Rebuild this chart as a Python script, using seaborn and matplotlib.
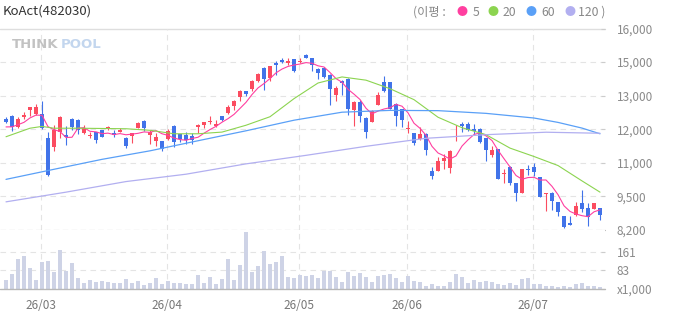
import numpy as np
import pandas as pd
import matplotlib
matplotlib.use("Agg")
import matplotlib.pyplot as plt
import seaborn as sns

# ---- data (KRW, daily) ----
opens = [12510, 12620, 12170, 12590, 12830, 12700, 12700, 11780, 11430, 11980,
         11890, 12510, 12470, 11940, 11850, 11980, 12080, 12150, 11940, 12000,
         11780, 11820, 12160, 12400, 11860, 11640, 11640, 11730, 12210, 11910,
         11890, 11850, 12200, 12250, 12380, 12240, 12620, 12730, 13000, 13360,
         13590, 13670, 13950, 14490, 14090, 14670, 14790, 14670, 14800, 14690,
         14990, 14860, 14420, 14490, 14210, 13440, 13980, 14060, 12830, 13170,
         12520, 12400, 13050, 13920, 13920, 13090, 12890, 12100, 11960, 11710,
         11930, 10490, 10490, 10870, 10610, 11860, 12310, 12310, 12120, 12120,
         11760, 11120, 11340, 10370, 10650, 10020, 9650, 10580, 10620, 10260,
         9580, 9650, 9290, 8740, 8470, 8770, 9240, 9060, 9020, 9060]
highs = [12560, 12640, 12560, 12770, 12960, 13080, 13210, 11990, 12280, 12600,
         12210, 12520, 12480, 12280, 11990, 11990, 12090, 12210, 12080, 12150,
         11790, 11950, 12400, 12440, 12070, 11950, 11650, 12120, 12280, 11920,
         11990, 11950, 12290, 12400, 12620, 12460, 12630, 13020, 13220, 13630,
         13600, 13990, 14260, 14500, 14560, 14760, 14860, 14840, 14810, 14860,
         15000, 14870, 14490, 14500, 14220, 13760, 13990, 14070, 13180, 13250,
         12560, 12830, 13560, 14150, 13930, 13100, 12900, 12420, 11970, 12180,
         11940, 10630, 11040, 11160, 11280, 12280, 12400, 12370, 12290, 12130,
         11770, 11460, 11350, 10560, 10660, 10030, 10580, 10700, 10800, 10270,
         9650, 9660, 9300, 8750, 8750, 9300, 9750, 9240, 9250, 9070]
lows = [12330, 12040, 12150, 12510, 12600, 12640, 12110, 10300, 11240, 11780,
        11500, 12080, 11930, 11930, 11760, 11580, 11800, 12070, 11810, 11990,
        11360, 11550, 12150, 12050, 11530, 11470, 11240, 11690, 11430, 11600,
        11540, 11530, 11950, 12160, 12310, 12200, 12430, 12700, 12850, 13210,
        13370, 13570, 13940, 13610, 13950, 14210, 14650, 14600, 14330, 14680,
        14850, 14340, 14060, 14100, 13020, 13180, 13440, 12660, 12240, 12400,
        11780, 12390, 13040, 13560, 12870, 12210, 12170, 11950, 11500, 11700,
        11110, 10190, 10480, 10570, 10390, 11630, 12010, 12050, 11890, 11560,
        10890, 11040, 10180, 10020, 9930, 9340, 9640, 10340, 10300, 9480,
        8950, 8980, 8730, 8290, 8390, 8760, 8910, 8360, 9010, 8600]
closes = [12400, 12170, 12510, 12660, 12950, 12950, 12130, 10310, 12080, 12590,
          11800, 12170, 12090, 12150, 11890, 11700, 11810, 12200, 11860, 12090,
          11470, 11940, 12350, 12130, 12010, 11810, 11330, 12040, 11600, 11720,
          11680, 11670, 12280, 12380, 12430, 12300, 12470, 12970, 13210, 13590,
          13470, 13980, 14250, 14060, 14550, 14580, 14710, 14760, 14340, 14730,
          14860, 14580, 14270, 14110, 13660, 13680, 13880, 12900, 13170, 12630,
          11980, 12800, 13440, 13570, 12880, 12630, 12440, 12160, 11550, 11900,
          11280, 10300, 10880, 11000, 11270, 11890, 12210, 12080, 12030, 11620,
          11280, 11300, 10190, 10410, 10020, 9630, 10570, 10520, 10460, 9490,
          9640, 9340, 8910, 8300, 8400, 9140, 9020, 8720, 9240, 8790]
# closes of the four sessions before the window (for the 5-day average)
pre_closes = [12150, 12100, 12200, 12100]
volume_k = [39, 65, 130, 144, 91, 39, 117, 122, 74, 170,
            78, 113, 48, 26, 39, 30, 35, 30, 26, 26,
            44, 26, 35, 17, 26, 48, 22, 35, 26, 26,
            22, 22, 61, 26, 52, 22, 44, 130, 39, 104,
            248, 74, 100, 165, 109, 117, 144, 52, 48, 61,
            57, 61, 48, 78, 78, 52, 30, 74, 57, 70,
            52, 30, 57, 61, 65, 48, 30, 57, 35, 30,
            13, 22, 13, 13, 30, 65, 52, 26, 39, 30,
            35, 30, 22, 17, 26, 17, 44, 48, 22, 22,
            13, 13, 9, 13, 9, 22, 26, 13, 13, 9]

# longer moving averages, read at sampled sessions
ma20_idx = [0, 2, 4, 6, 8, 12, 16, 20, 24, 28, 32, 36, 40, 44, 48, 52, 56, 60,
            64, 68, 72, 76, 80, 84, 88, 92, 96, 99]
ma20_val = [11810, 11975, 12140, 12210, 12140, 12140, 12130, 12120, 12060, 11925,
            11925, 11990, 12255, 12585, 13285, 13890, 14125, 14000, 13670, 13245,
            12565, 12160, 11890, 11370, 11045, 10695, 10100, 9665]
ma60_idx = [0, 8, 16, 24, 32, 40, 48, 56, 64, 72, 80, 88, 92, 96, 99]
ma60_val = [10160, 10550, 10935, 11265, 11655, 12040, 12450, 12760, 12830, 12820,
            12715, 12535, 12365, 12145, 11925]
ma120_idx = [0, 10, 20, 30, 40, 50, 60, 70, 80, 90, 99]
ma120_val = [9290, 9665, 10075, 10360, 10760, 11090, 11440, 11750, 11890, 11985, 11945]

price_ticks = [16000, 14700, 13400, 12100, 10800, 9500, 8200]
price_labels = ['16,000', '15,000', '13,000', '12,000', '11,000', '9,500', '8,200']
vol_ticks = [83, 161]
month_idx = [6, 27, 49, 67, 88]
month_labels = ['26/03', '26/04', '26/05', '26/06', '26/07']

RED, BLUE = '#fb4c60', '#4173e9'
MA_COLORS = {'5': '#ff3fa0', '20': '#8cd450', '60': '#5aa0f7', '120': '#b2aff0'}
VOL_C = '#ced3e6'
GRID_C = '#e4e4e4'
TXT_C = '#8a8a8a'

sns.set_style('white')
plt.rcParams['font.family'] = ['Noto Sans CJK KR', 'DejaVu Sans']

df = pd.DataFrame({'i': np.arange(len(closes)), 'open': opens, 'high': highs,
                   'low': lows, 'close': closes, 'vol': volume_k})
ma5 = pd.Series(pre_closes + closes).rolling(5).mean().iloc[len(pre_closes):].to_numpy()

W, H = 673, 315
fig = plt.figure(figsize=(W / 100, H / 100), dpi=100)


def box(x0, y0, x1, y1):
    return [x0 / W, 1 - y1 / H, (x1 - x0) / W, (y1 - y0) / H]


ax = fig.add_axes(box(0, 28.5, 605, 230))
axv = fig.add_axes(box(0, 230, 605, 289), sharex=ax)

# candles: red = up, blue = down
up = df['close'] >= df['open']
colors = np.where(up, RED, BLUE)
ax.vlines(df['i'], df['low'], df['high'], colors=colors, lw=0.8, zorder=2)
body_lo = np.minimum(df['open'], df['close'])
body_h = np.maximum((df['close'] - df['open']).abs(), 35)
ax.bar(df['i'], body_h, bottom=body_lo, width=0.8, color=colors, lw=0, zorder=2)

# moving averages
sns.lineplot(x=df['i'], y=ma5, ax=ax, color=MA_COLORS['5'], lw=0.8, zorder=3)
sns.lineplot(x=ma20_idx, y=ma20_val, ax=ax, color=MA_COLORS['20'], lw=0.8, zorder=3)
sns.lineplot(x=ma60_idx, y=ma60_val, ax=ax, color=MA_COLORS['60'], lw=0.9, zorder=3)
sns.lineplot(x=ma120_idx, y=ma120_val, ax=ax, color=MA_COLORS['120'], lw=0.9, zorder=3)

# volume
sns.barplot(x=df['i'], y=df['vol'], ax=axv, native_scale=True, color=VOL_C,
            saturation=1, width=0.78, linewidth=0, errorbar=None, zorder=2)

ax.set_xlim(-1, 99.83)
ax.set_ylim(8200, 16000)
axv.set_ylim(0, 256)

# grid lines
for t in price_ticks[1:-1]:
    ax.axhline(t, color=GRID_C, lw=0.8, ls=(0, (5, 4)), zorder=0)
ax.axhline(16000, color='#dedede', lw=1, zorder=0, clip_on=False)
ax.axhline(8200, color='#9a9a9a', lw=0.8, ls=(0, (5, 3)), zorder=1, clip_on=False)
for t in vol_ticks:
    axv.axhline(t, color=GRID_C, lw=0.8, ls=(0, (5, 4)), zorder=0)
axv.axhline(0, color='#b8b8b8', lw=1, zorder=3, clip_on=False)
for m in month_idx:
    ax.axvline(m - 0.2, color=GRID_C, lw=0.8, ls=(0, (5, 4)), zorder=0)
    axv.axvline(m - 0.2, color=GRID_C, lw=0.8, ls=(0, (5, 4)), zorder=0)

for a in (ax, axv):
    for s in a.spines.values():
        s.set_visible(False)
    a.set_xlabel('')
    a.set_ylabel('')
    a.yaxis.tick_right()
    a.tick_params(axis='y', right=True, left=False, labelright=True, labelleft=False,
                  direction='in', length=3, color='#cccccc', pad=8.6,
                  labelsize=8.5, labelcolor=TXT_C)

ax.set_yticks(price_ticks, price_labels)
ax.tick_params(axis='x', bottom=False, labelbottom=False)
axv.set_yticks([0] + vol_ticks, ['x1,000', '83', '161'])
axv.set_xticks([m - 0.2 for m in month_idx], month_labels)
axv.tick_params(axis='x', bottom=False, labelbottom=True, length=0, pad=7,
                labelsize=8.5, labelcolor='#777777')

# header texts
fig.text(3 / W, 1 - 11 / H, 'KoAct(482030)', fontsize=9.5, color='#333333', va='center')
legend_y = 1 - 12 / H
fig.text(413 / W, legend_y, '(이평 :', fontsize=8.8, color='#888888', va='center')
for name, dot_x, lab_x, lab in [('5', 462, 473, '5'), ('20', 493, 503, '20'),
                                 ('60', 531, 541, '60'), ('120', 570, 578, '120 )')]:
    fig.text(dot_x / W, legend_y, '●', fontsize=8, color=MA_COLORS[name],
             va='center', ha='center')
    fig.text(lab_x / W, legend_y, lab, fontsize=8.8, color='#888888', va='center')

# faint logo
fig.text(12 / W, 1 - 44 / H, 'THINK', fontsize=9.5, fontweight='bold',
         color='#c2c2c2', va='center', family='DejaVu Sans')
fig.text(61 / W, 1 - 44 / H, 'POOL', fontsize=9.5, fontweight='bold',
         color='#c3d6ee', va='center', family='DejaVu Sans')

fig.savefig('out.png', dpi=100)
